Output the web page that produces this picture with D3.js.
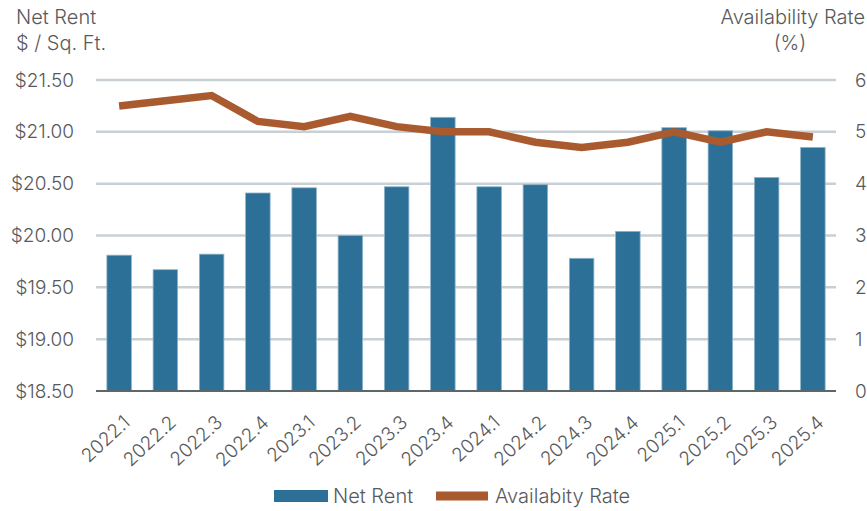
<!DOCTYPE html>
<html><head><meta charset="utf-8">
<script src="https://cdn.jsdelivr.net/npm/d3@7"></script>
<style>
body{margin:0;background:#fff;}
svg{display:block;font-family:Inter, "Open Sans", sans-serif;font-weight:300;}
</style></head>
<body>
<svg id="c" width="867" height="511"></svg>
<script>
const categories = ["2022.1","2022.2","2022.3","2022.4","2023.1","2023.2","2023.3","2023.4","2024.1","2024.2","2024.3","2024.4","2025.1","2025.2","2025.3","2025.4"];
const netRent = [19.81,19.67,19.82,20.41,20.46,20.00,20.47,21.14,20.47,20.49,19.78,20.04,21.04,21.01,20.56,20.85];
const availability = [5.5,5.6,5.7,5.2,5.1,5.3,5.1,5.0,5.0,4.8,4.7,4.8,5.0,4.8,5.0,4.9];
const leftTicks = [18.5,19.0,19.5,20.0,20.5,21.0,21.5];
const rightTicks = [0,1,2,3,4,5,6];

const svg = d3.select("#c");
const mLeft = 96, mRight = 836, mTop = 80, mBottom = 391;
const textColor = "#58595b";
const fs = "20px";

const x = d3.scaleBand().domain(categories).range([mLeft, mRight]).paddingInner(0.47).paddingOuter(0.235);
const y = d3.scaleLinear().domain([18.5, 21.5]).range([mBottom, mTop]);
const y2 = d3.scaleLinear().domain([0, 6]).range([mBottom, mTop]);

// gridlines
svg.append("g").selectAll("line").data(leftTicks.filter(d=>d>18.5)).join("line")
  .attr("x1", mLeft).attr("x2", mRight)
  .attr("y1", d=>y(d)).attr("y2", d=>y(d))
  .attr("stroke", "#c9d0d4").attr("stroke-width", 2.5);

// left axis labels
const ga = svg.append("g").attr("transform", `translate(${mLeft},0)`)
  .call(d3.axisLeft(y).tickValues(leftTicks).tickSize(0).tickPadding(22).tickFormat(d=>"$"+d3.format(".2f")(d)));
ga.select(".domain").remove();
ga.selectAll("text").attr("fill", textColor).style("font-size","19px").style("font-family","Inter, sans-serif").style("font-weight",300);

// right axis labels
const gr = svg.append("g").attr("transform", `translate(${mRight},0)`)
  .call(d3.axisRight(y2).tickValues(rightTicks).tickSize(0).tickPadding(19).tickFormat(d3.format("d")));
gr.select(".domain").remove();
gr.selectAll("text").attr("fill", textColor).style("font-size","19px").style("font-family","Inter, sans-serif").style("font-weight",300);

// bars
svg.append("g").selectAll("rect").data(netRent).join("rect")
  .attr("x", (d,i)=>x(categories[i]))
  .attr("width", x.bandwidth())
  .attr("y", d=>y(d))
  .attr("height", d=>y(18.5)-y(d))
  .attr("fill", "#2c7097")
  .attr("stroke", "#8fb4c9").attr("stroke-width", 0.8);

// baseline
svg.append("line").attr("x1", mLeft).attr("x2", mRight).attr("y1", mBottom).attr("y2", mBottom)
  .attr("stroke", "#5d6669").attr("stroke-width", 2);

// line
const line = d3.line().x((d,i)=>x(categories[i]) + x.bandwidth()/2).y(d=>y2(d));
svg.append("path").datum(availability).attr("d", line)
  .attr("fill","none").attr("stroke","#a95a2e").attr("stroke-width",7.5).attr("stroke-linejoin","miter");

// x labels
const gx = svg.append("g").attr("transform", `translate(0,${mBottom})`)
  .call(d3.axisBottom(x).tickSize(0).tickPadding(0));
gx.select(".domain").remove();
gx.selectAll("text").attr("fill", textColor).style("font-size","19px").style("font-family","Inter, sans-serif").style("font-weight",300)
  .attr("text-anchor","end").attr("dy",0).attr("y",0)
  .attr("transform","translate(12,33) rotate(-43)");

// titles
const t = svg.append("g").attr("fill", textColor).style("font-size",fs);
t.append("text").attr("x",16).attr("y",24).text("Net Rent");
t.append("text").attr("x",16).attr("y",50).text("$ / Sq. Ft.");
t.append("text").attr("x",865).attr("y",24).attr("text-anchor","end").text("Availability Rate");
t.append("text").attr("x",790).attr("y",50).attr("text-anchor","middle").text("(%)");

// legend
const lg = svg.append("g").style("font-size",fs).attr("fill", textColor);
lg.append("rect").attr("x",274).attr("y",490).attr("width",54).attr("height",12).attr("fill","#2c7097");
lg.append("text").attr("x",333).attr("y",503).text("Net Rent");
lg.append("rect").attr("x",436).attr("y",491.5).attr("width",52).attr("height",9).attr("fill","#a95a2e");
lg.append("text").attr("x",495).attr("y",503).text("Availabity Rate");
</script>
</body></html>
